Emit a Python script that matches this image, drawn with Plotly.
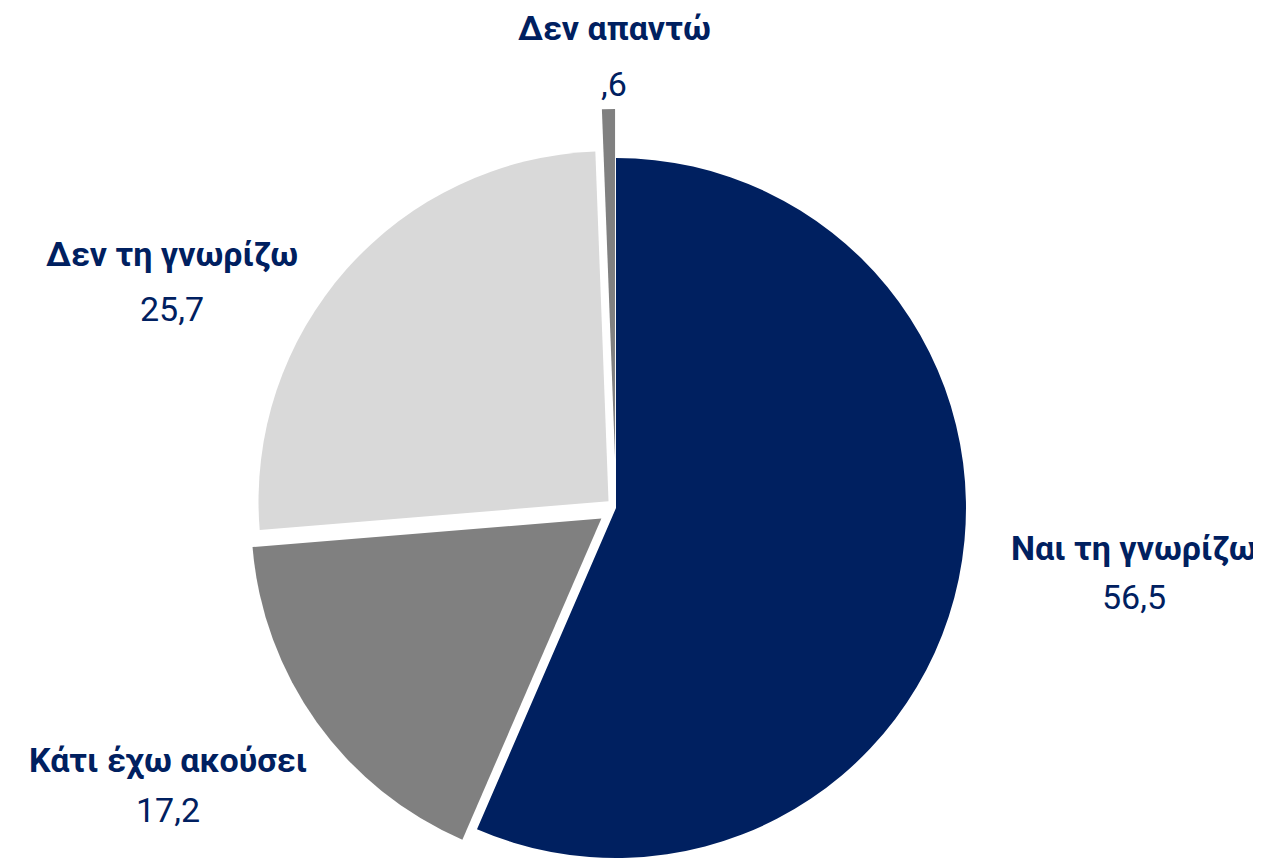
import math
import plotly.graph_objects as go

# data
categories = ["Ναι τη γνωρίζω", "Κάτι έχω ακούσει", "Δεν τη γνωρίζω", "Δεν απαντώ"]
values = [56.5, 17.2, 25.7, 0.6]
colors = ["#002060", "#808080", "#D9D9D9", "#808080"]
pull_px = [0, 18, 10, 49]          # how far each slice is pulled out, px

# layout
W, H = 1261, 861
CX, CY, R = 608, 500, 350
TEXT = "#002060"
FONT = "Roboto, sans-serif"
# (x, name y, value y) in px from top-left
label_pos = [(1126, 540, 589), (160, 752, 802), (164, 246, 301), (606, 20, 76)]


def fmt(v):
    s = f"{v:.1f}".replace(".", ",")
    return s[1:] if s.startswith("0") else s


fig = go.Figure()
total = sum(values)
before = 0.0
for name, v, c, d in zip(categories, values, colors, pull_px):
    mid = (before + v / 2) / total * 2 * math.pi
    cx = CX + d * math.sin(mid)
    cy = CY - d * math.cos(mid)
    after = total - before - v
    fig.add_trace(go.Pie(
        values=[before, v, after],
        labels=["a", name, "b"],
        marker=dict(colors=["rgba(0,0,0,0)", c, "rgba(0,0,0,0)"], line=dict(width=0)),
        sort=False,
        direction="clockwise",
        textinfo="none",
        hoverinfo="skip",
        showlegend=False,
        domain=dict(
            x=[max(0, (cx - R) / W), min(1, (cx + R) / W)],
            y=[max(0, 1 - (cy + R) / H), min(1, 1 - (cy - R) / H)],
        ),
    ))
    before += v

for name, v, (x, yn, yv) in zip(categories, values, label_pos):
    fig.add_annotation(
        x=x / W, y=1 - yn / H, xref="paper", yref="paper",
        xanchor="center", yanchor="middle", showarrow=False,
        text=f"<b>{name}</b>",
        font=dict(family=FONT, size=34, color=TEXT),
    )
    fig.add_annotation(
        x=x / W, y=1 - yv / H, xref="paper", yref="paper",
        xanchor="center", yanchor="middle", showarrow=False,
        text=fmt(v),
        font=dict(family=FONT, size=34, color=TEXT),
    )

fig.update_layout(
    width=W, height=H,
    margin=dict(l=0, r=0, t=0, b=0),
    paper_bgcolor="white",
    plot_bgcolor="white",
)

fig.write_html("out.html")
